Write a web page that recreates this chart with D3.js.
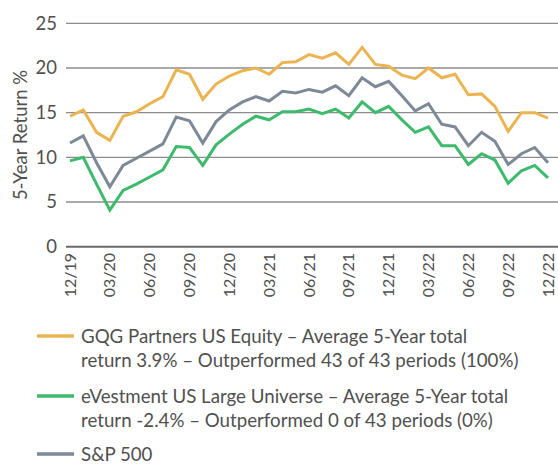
<!DOCTYPE html>
<html>
<head>
<meta charset="utf-8">
<script src="https://cdn.jsdelivr.net/npm/d3@7"></script>
<style>
  body { margin: 0; background: #fff; }
  text { font-family: Lato, "Open Sans", sans-serif; fill: #505050; }
</style>
</head>
<body>
<script>
var settings = { w: 558, h: 465 };

// 37 month-end points, 12/19 .. 12/22
var tickLabels = ['12/19', '03/20', '06/20', '09/20', '12/20', '03/21', '06/21',
  '09/21', '12/21', '03/22', '06/22', '09/22', '12/22'];
var yTicks = [0, 5, 10, 15, 20, 25];

var gqg = [14.6, 15.3, 12.8, 11.9, 14.6, 15.1, 16.0, 16.8, 19.8, 19.3, 16.5, 18.2,
  19.1, 19.7, 20.0, 19.3, 20.6, 20.7, 21.5, 21.1, 21.7, 20.4, 22.3, 20.4, 20.2,
  19.2, 18.8, 20.0, 18.9, 19.3, 17.0, 17.1, 15.7, 12.9, 15.0, 15.0, 14.4];
var evest = [9.6, 10.0, 7.0, 4.1, 6.3, 7.0, 7.8, 8.6, 11.2, 11.1, 9.1, 11.4,
  12.6, 13.7, 14.6, 14.2, 15.1, 15.1, 15.4, 14.9, 15.4, 14.4, 16.2, 15.0, 15.7,
  14.2, 12.8, 13.4, 11.3, 11.3, 9.2, 10.4, 9.7, 7.1, 8.5, 9.1, 7.7];
var spx = [11.6, 12.4, 9.4, 6.7, 9.1, 9.9, 10.7, 11.5, 14.5, 14.1, 11.6, 14.0,
  15.3, 16.2, 16.8, 16.3, 17.4, 17.2, 17.6, 17.3, 18.0, 16.9, 18.9, 17.9, 18.5,
  16.9, 15.2, 16.0, 13.7, 13.4, 11.3, 12.8, 11.8, 9.2, 10.4, 11.1, 9.4];

var legendItems = [
  { color: '#ecb451', lines: ['GQG Partners US Equity \u2013 Average 5-Year total',
    'return 3.9% \u2013 Outperformed 43 of 43 periods (100%)'] },
  { color: '#3dba6c', lines: ['eVestment US Large Universe \u2013 Average 5-Year total',
    'return -2.4% \u2013 Outperformed 0 of 43 periods (0%)'] },
  { color: '#7d8996', lines: ['S&P 500'] }
];

var svg = d3.select('body').append('svg')
  .attr('width', settings.w)
  .attr('height', settings.h);

var x = d3.scaleLinear().domain([0, gqg.length - 1]).range([70, 548]);
var y = d3.scaleLinear().domain([0, 25]).range([246.7, 23.3]);

// gridlines
svg.selectAll('.grid').data(yTicks).enter().append('line')
  .attr('x1', 66).attr('x2', 558)
  .attr('y1', function(d) { return y(d); })
  .attr('y2', function(d) { return y(d); })
  .attr('stroke', function(d) { return d === 0 ? '#6b6b6b' : '#8c8c8c'; })
  .attr('stroke-width', function(d) { return d === 0 ? 2 : 1.3; });

svg.selectAll('.ylab').data(yTicks).enter().append('text')
  .attr('x', 57)
  .attr('y', function(d) { return y(d); })
  .attr('dy', '0.35em')
  .attr('text-anchor', 'end')
  .style('font-size', '18.5px')
  .text(function(d) { return d; });

svg.append('text')
  .attr('transform', 'translate(27,135) rotate(-90)')
  .attr('text-anchor', 'middle')
  .style('font-size', '18.5px')
  .text('5-Year Return %');

svg.selectAll('.xlab').data(tickLabels).enter().append('text')
  .attr('transform', function(d, i) {
    return 'translate(' + (x(i * 3) + 5.5) + ',253) rotate(-90)';
  })
  .attr('text-anchor', 'end')
  .style('font-size', '16px')
  .text(function(d) { return d; });

var line = d3.line()
  .x(function(d, i) { return x(i); })
  .y(function(d) { return y(d); });

[[gqg, legendItems[0].color], [spx, legendItems[2].color], [evest, legendItems[1].color]]
  .forEach(function(s) {
    svg.append('path')
      .attr('d', line(s[0]))
      .attr('fill', 'none')
      .attr('stroke', s[1])
      .attr('stroke-width', 3)
      .attr('stroke-linejoin', 'miter');
  });

// legend
var legendY = [336, 396, 454];
legendItems.forEach(function(item, k) {
  var g = svg.append('g').attr('transform', 'translate(0,' + legendY[k] + ')');
  g.append('line')
    .attr('x1', 37).attr('x2', 74)
    .attr('stroke', item.color)
    .attr('stroke-width', 3.5);
  item.lines.forEach(function(t, j) {
    g.append('text')
      .attr('x', 81)
      .attr('y', j * 24.5)
      .attr('dy', '0.35em')
      .style('font-size', '18.7px')
      .text(t);
  });
});
</script>
</body>
</html>
